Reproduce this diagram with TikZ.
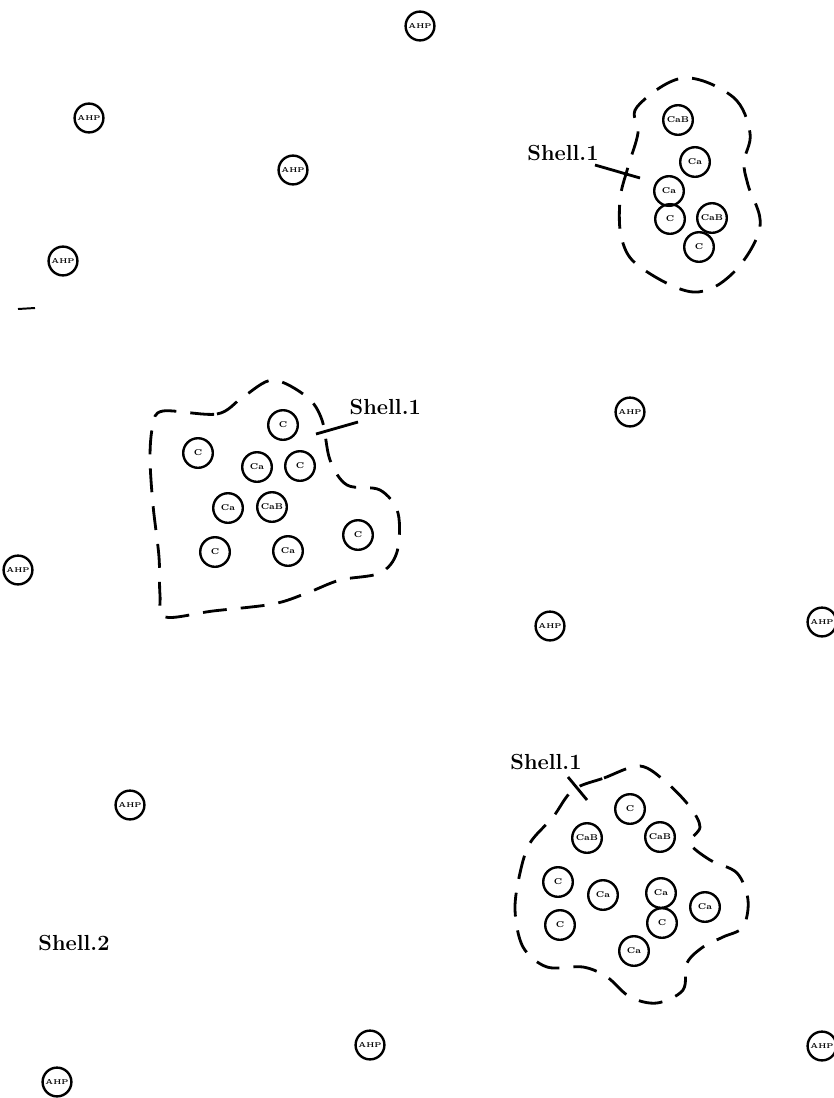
\documentclass[tikz,border=0pt]{standalone}
\usepackage{tikz}
\usetikzlibrary{positioning}

\begin{document}
\begin{tikzpicture}[
  x=0.025cm, y=-0.025cm,
  amp/.style={draw, circle, line width=1.7pt, minimum size=0.72cm, inner sep=0pt,
              font=\fontsize{5}{6}\selectfont\bfseries},
  cell/.style={draw, circle, line width=1.7pt, minimum size=0.74cm, inner sep=0pt,
               font=\fontsize{6}{7}\selectfont\bfseries},
  shell/.style={draw, line width=2pt, dash pattern=on 17pt off 10pt},
  lbl/.style={font=\fontsize{15.5}{18}\selectfont\bfseries, inner sep=1pt},
  lead/.style={line width=2pt}
]
\useasboundingbox (0,0) rectangle (834,1098);

% Scattered AHP cells
\node[amp] (a1)  at (420,26)   {AHP};
\node[amp] (a2)  at (89,118)   {AHP};
\node[amp] (a3)  at (293,170)  {AHP};
\node[amp] (a4)  at (63,261)   {AHP};
\node[amp] (a5)  at (630,412)  {AHP};
\node[amp] (a6)  at (18,570)   {AHP};
\node[amp] (a7)  at (550,626)  {AHP};
\node[amp] (a8)  at (822,622)  {AHP};
\node[amp] (a9)  at (130,805)  {AHP};
\node[amp] (a10) at (370,1045) {AHP};
\node[amp] (a11) at (822,1046) {AHP};
\node[amp] (a12) at (57,1082)  {AHP};
\draw[line width=1.4pt] (18,309) -- (35,308);

% Top right cluster
\node[cell] (t1) at (678,120) {CaB};
\node[cell] (t2) at (695,162) {Ca};
\node[cell] (t3) at (669,191) {Ca};
\node[cell] (t4) at (670,219) {C};
\node[cell] (t5) at (712,218) {CaB};
\node[cell] (t6) at (699,247) {C};
\draw[shell] plot[smooth cycle, tension=0.6] coordinates {
  (683,78) (733,97) (750,133) (744,162) (748,185) (760,227) (733,273)
  (693,292) (640,267) (622,240) (620,200) (628,167) (638,133) (637,107)};
\node[lbl] (s1) at (563,153) {Shell.1};
\coordinate (s1end) at (640,178);
\draw[lead] (595,165) -- (s1end);

% Middle left cluster
\node[cell] (m1) at (283,425) {C};
\node[cell] (m2) at (198,453) {C};
\node[cell] (m3) at (257,467) {Ca};
\node[cell] (m4) at (300,466) {C};
\node[cell] (m5) at (228,508) {Ca};
\node[cell] (m6) at (272,507) {CaB};
\node[cell] (m7) at (358,535) {C};
\node[cell] (m8) at (215,552) {C};
\node[cell] (m9) at (288,551) {Ca};
\draw[shell] plot[smooth cycle, tension=0.55] coordinates {
  (163,411) (217,414) (243,397) (273,380) (307,397) (322,420) (330,460)
  (347,485) (380,490) (398,513) (397,552) (380,573) (340,580) (307,593)
  (273,604) (213,611) (165,617) (160,595) (159,557) (153,505) (150,457) (153,425)};
\node[lbl, anchor=west] (s2) at (348,407) {Shell.1};
\coordinate (s2end) at (316,434);
\draw[lead] (358,422) -- (s2end);

% Bottom right cluster
\node[cell] (b1)  at (630,809) {C};
\node[cell] (b2)  at (587,838) {CaB};
\node[cell] (b3)  at (660,837) {CaB};
\node[cell] (b4)  at (558,882) {C};
\node[cell] (b5)  at (603,895) {Ca};
\node[cell] (b6)  at (661,893) {Ca};
\node[cell] (b7)  at (705,907) {Ca};
\node[cell] (b8)  at (560,925) {C};
\node[cell] (b9)  at (662,923) {C};
\node[cell] (b10) at (634,951) {Ca};
\draw[shell] plot[smooth cycle, tension=0.55] coordinates {
  (573,790) (604,778) (640,766) (667,783) (690,807) (700,827) (690,843)
  (710,860) (737,873) (748,900) (743,927) (723,937) (703,947) (687,963)
  (683,990) (657,1003) (630,997) (607,977) (583,967) (547,967) (523,947)
  (515,910) (520,873) (530,843) (553,817)};
\node[lbl] (s3) at (546,762) {Shell.1};
\coordinate (s3end) at (587,800);
\draw[lead] (568,777) -- (s3end);

% Outer shell
\node[lbl] (s4) at (74,943) {Shell.2};

\end{tikzpicture}
\end{document}
